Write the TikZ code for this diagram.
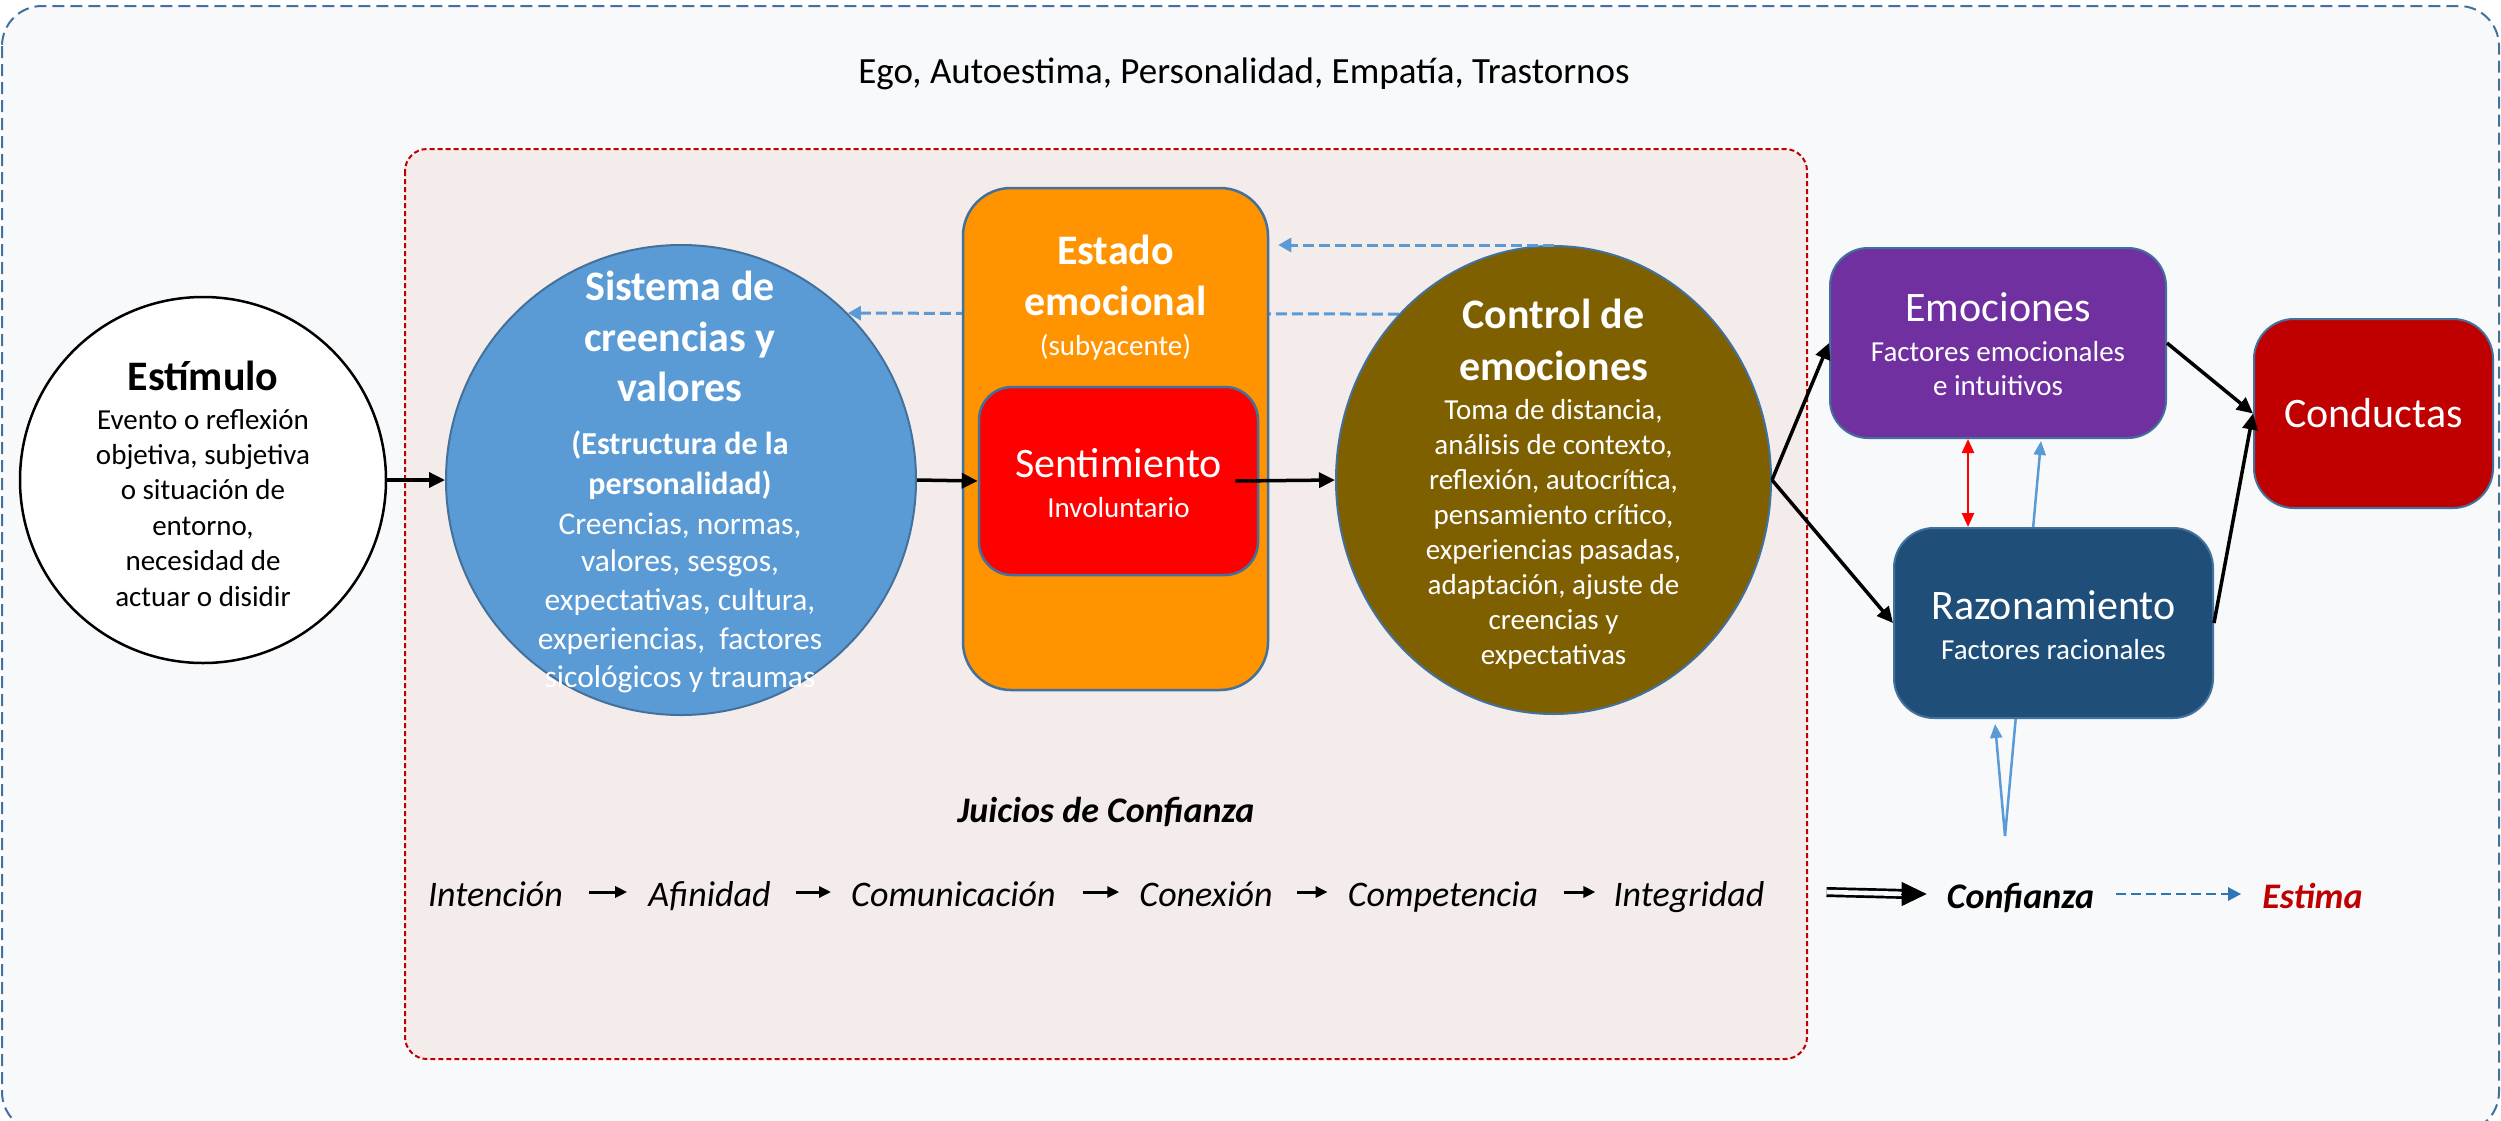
\documentclass[tikz,border=0pt]{standalone}
\usepackage{fontspec}
\setmainfont{Carlito}
\usetikzlibrary{arrows.meta,shapes.geometric,calc}
\pgfdeclarelayer{bg}
\pgfdeclarelayer{behind}
\pgfsetlayers{bg,behind,main}
\definecolor{bgc}{HTML}{F8F9FB}
\definecolor{outerc}{HTML}{41719C}
\definecolor{pinkc}{HTML}{F4EBEB}
\definecolor{darkred}{HTML}{C00000}
\definecolor{lblue}{HTML}{5B9BD5}
\definecolor{midblue}{HTML}{2E75B6}
\definecolor{orangec}{HTML}{FF9300}
\definecolor{olivec}{HTML}{7F6000}
\definecolor{purplec}{HTML}{7030A0}
\definecolor{navyc}{HTML}{1F4E79}
\newcommand\myline[3]{{\fontsize{#1}{#2}\selectfont\spaceskip=0pt\xspaceskip=0pt\relax #3\par}}
\begin{document}
\begin{tikzpicture}[x=1pt,y=-1pt,
  txt/.style={text width=520pt, align=flush center, inner sep=0pt, anchor=base, text=white},
  shapeborder/.style={draw=outerc, line width=2pt},
  rbox/.style={shapeborder, rectangle, inner sep=0pt},
  arr/.style={line width=3.5pt, -{Triangle[length=16pt,width=15pt]}},
  smallarr/.style={line width=3pt, -{Triangle[length=12pt,width=11pt]}},
  bluedash/.style={draw=lblue, line width=3pt, dash pattern=on 11pt off 5pt, -{Triangle[length=13pt,width=14pt]}},
  bluethin/.style={draw=lblue, line width=2.5pt, -{Triangle[length=14pt,width=12pt]}},
  rowword/.style={font=\fontsize{36}{40}\selectfont\itshape, inner sep=0pt, text height=28pt, text depth=0pt, anchor=base},
  boldrow/.style={rowword, font=\fontsize{36}{40}\selectfont\bfseries\itshape},
]
\useasboundingbox (0,0) rectangle (2501,1120);

\begin{pgfonlayer}{bg}
\path[fill=bgc, draw=outerc, line width=2pt, dash pattern=on 12pt off 6pt, rounded corners=40pt] (2,6) rectangle (2499,1132);
\path[fill=pinkc, draw=darkred, line width=2pt, dash pattern=on 5pt off 3pt, rounded corners=22pt] (405,149) rectangle (1807,1059);
\end{pgfonlayer}

\node[anchor=base, inner sep=0pt, font=\fontsize{37}{44}\selectfont] (title) at (1244,83) {Ego, Autoestima, Personalidad, Empatía, Trastornos};

% Estimulo
\node[circle, draw=black, line width=2.5pt, fill=white, minimum size=366pt, inner sep=0pt] (estimulo) at (203,480) {};
\node[txt, text=black] (estimuloT) at (203,390) {\myline{42}{42}{\bfseries Estímulo}\myline{29}{39}{Evento o reflexión}\myline{29}{35.4}{objetiva, subjetiva}\myline{29}{35.4}{o situación de}\myline{29}{35.4}{entorno,}\myline{29}{35.4}{necesidad de}\myline{29}{35.4}{actuar o disidir}};

% Sistema
\node[circle, shapeborder, fill=lblue, minimum size=470pt, inner sep=0pt] (sistema) at (681,480) {};
\node[txt] (sistemaT) at (680,300) {\myline{42}{42}{\bfseries Sistema de}\myline{42}{51}{\bfseries creencias y}\myline{42}{50}{\bfseries valores}\myline{32}{53}{\bfseries (Estructura de la}\myline{32}{40}{\bfseries personalidad)}\myline{31.5}{40}{Creencias, normas,}\myline{31.5}{37}{valores, sesgos,}\myline{31.5}{39}{expectativas, cultura,}\myline{31.5}{39}{experiencias, \ factores}\myline{31.5}{38}{sicológicos y traumas}};

% Estado emocional
\node[rbox, fill=orangec, minimum width=305pt, minimum height=502pt, rounded corners=48pt, line width=2.5pt] (estado) at (1115.5,439) {};
\node[txt] (estadoT) at (1115.5,264.7) {\myline{42}{42}{\bfseries Estado}\myline{42}{51}{\bfseries emocional}\myline{29}{40}{(subyacente)}};
\node[rbox, fill=red, minimum width=279pt, minimum height=188pt, rounded corners=33pt, line width=2.5pt] (sentimiento) at (1118.5,481) {};
\node[txt] (sentimientoT) at (1118.5,477.5) {\myline{42}{42}{Sentimiento}\myline{29}{39.5}{Involuntario}};

% Control
\node[ellipse, shapeborder, fill=olivec, minimum width=435pt, minimum height=468pt, inner sep=0pt] (control) at (1553.5,480) {};
\node[txt] (controlT) at (1553.5,328) {\myline{42}{42}{\bfseries Control de}\myline{42}{52}{\bfseries emociones}\myline{29}{39}{Toma de distancia,}\myline{29}{35.1}{análisis de contexto,}\myline{29}{35.1}{reflexión, autocrítica,}\myline{29}{35.1}{pensamiento crítico,}\myline{29}{35.1}{experiencias pasadas,}\myline{29}{35.1}{adaptación, ajuste de}\myline{29}{35.1}{creencias y}\myline{29}{35.1}{expectativas}};

% Right boxes
\node[rbox, fill=purplec, minimum width=336pt, minimum height=190pt, rounded corners=38pt] (emociones) at (1998,343) {};
\node[txt] (emocionesT) at (1998,321.6) {\myline{42}{42}{Emociones}\myline{29}{39.5}{Factores emocionales}\myline{29}{34.5}{e intuitivos}};
\node[rbox, fill=navyc, minimum width=319pt, minimum height=190pt, rounded corners=40pt] (razonamiento) at (2053.5,623) {};
\node[txt] (razonamientoT) at (2053.5,619.5) {\myline{42}{42}{Razonamiento}\myline{29}{39.5}{Factores racionales}};
\node[rbox, fill=darkred, minimum width=239pt, minimum height=189pt, rounded corners=40pt, text=white, font=\fontsize{42}{48}\selectfont] (conductas) at (2373.5,413.5) {Conductas};

% Bottom row
\node[anchor=base, inner sep=0pt, font=\fontsize{36}{40}\selectfont\bfseries\itshape] (juicios) at (1106,822) {Juicios de Confianza};
\node[rowword] (w1) at (495.5,906) {Intención};
\node[rowword] (w2) at (709.5,906) {Afinidad};
\node[rowword] (w3) at (953.5,906) {Comunicación};
\node[rowword] (w4) at (1206,906) {Conexión};
\node[rowword] (w5) at (1443,906) {Competencia};
\node[rowword] (w6) at (1689,906) {Integridad};
\node[boldrow] (confianza) at (2020.5,908) {Confianza};
\node[boldrow, text=darkred] (estima) at (2312.5,908) {Estima};

% connectors behind shapes
\begin{pgfonlayer}{behind}
\draw[bluedash] (control.133) -- (sistema.45);
\coordinate (src) at (2005,836);
\draw[bluethin] (src) -- ([xshift=43pt,yshift=-2pt]emociones.south);
\end{pgfonlayer}

\draw[bluedash, shorten >=9pt] (control.north) -- (control.north -| estado.east);
\draw[bluethin] (src) -- ([xshift=-58.5pt,yshift=-5pt]razonamiento.south);

\draw[arr] (estimulo.east) -- (sistema.west);
\draw[arr] (sistema.east) -- (sentimiento.west);
\draw[arr] ([xshift=-24pt]sentimiento.east) -- (control.west);
\draw[arr] (control.east) -- (emociones.west);
\draw[arr] (control.east) -- (razonamiento.west);
\draw[arr] (emociones.east) -- (conductas.west);
\draw[arr] (razonamiento.east) -- (conductas.west);
\draw[draw=red, line width=2.5pt, {Triangle[length=14pt,width=12pt]}-{Triangle[length=14pt,width=12pt]}] ([xshift=-30pt]emociones.south) -- ([xshift=-85.5pt]razonamiento.north);

\draw[smallarr, shorten <=26pt, shorten >=21pt] (w1.east) -- (w2.west);
\draw[smallarr, shorten <=25pt, shorten >=20pt] (w2.east) -- (w3.west);
\draw[smallarr, shorten <=27pt, shorten >=20pt] (w3.east) -- (w4.west);
\draw[smallarr, shorten <=24pt, shorten >=20pt] (w4.east) -- (w5.west);
\draw[smallarr, shorten <=26pt, shorten >=18pt] (w5.east) -- (w6.west);

\draw[line width=2.7pt, double=bgc, double distance=4.6pt] ([xshift=62pt]w6.east) -- ([xshift=-40pt]confianza.west);
\draw[-{Triangle[length=25pt,width=24pt]}, line width=1pt] ([xshift=-46pt]confianza.west) -- ([xshift=-20pt]confianza.west);
\draw[draw=midblue, line width=2.5pt, dash pattern=on 10pt off 5pt, -{Triangle[length=13pt,width=13pt]}, shorten <=22pt, shorten >=21pt] (confianza.east) -- (estima.west);
\end{tikzpicture}
\end{document}
